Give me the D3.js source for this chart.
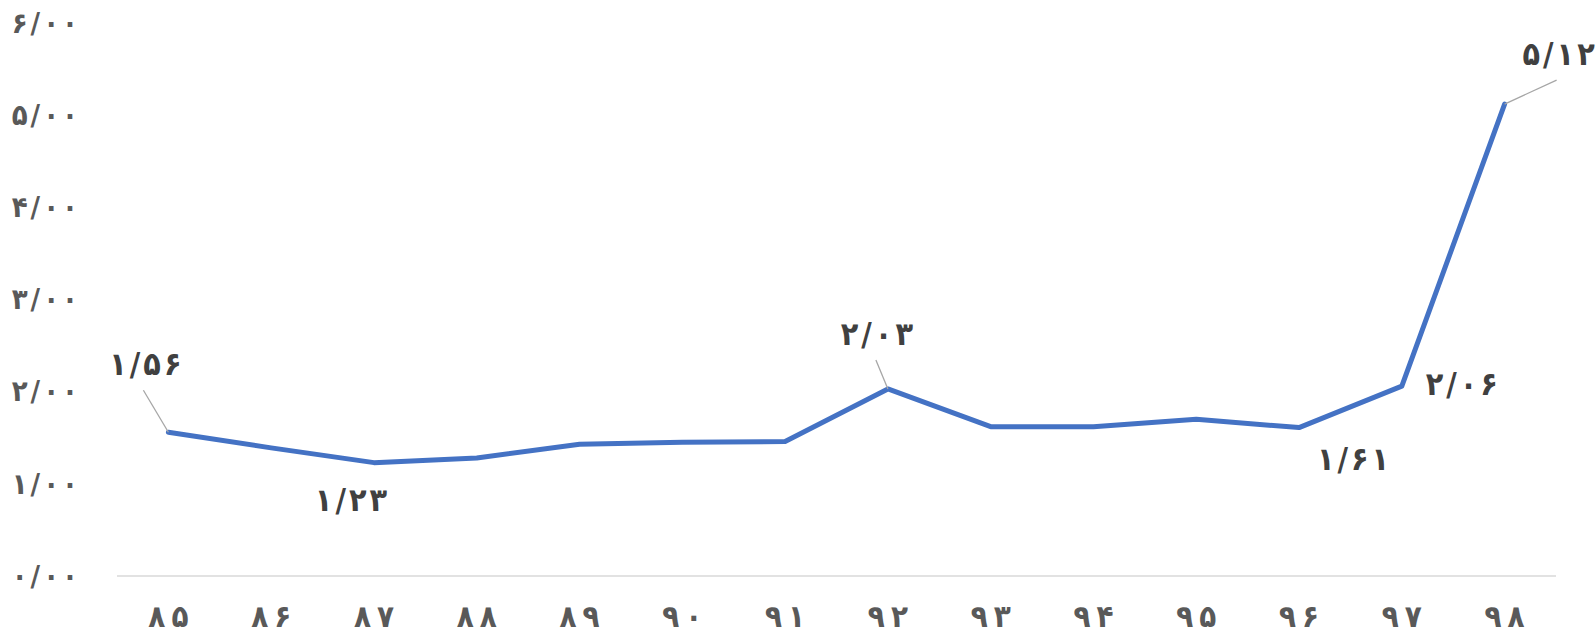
<!DOCTYPE html>
<html lang="fa">
<head>
<meta charset="utf-8">
<script src="https://cdn.jsdelivr.net/npm/d3@7"></script>
<style>
  html, body { margin: 0; padding: 0; background: #ffffff; }
  svg { display: block; }
  text { font-family: "DejaVu Sans Condensed", "DejaVu Sans", sans-serif; font-weight: bold; font-stretch: condensed; }
</style>
</head>
<body>
<svg id="chart" width="1596" height="633"></svg>
<script>
// Years (Persian calendar) and yearly values
const years = ["۸۵", "۸۶", "۸۷", "۸۸", "۸۹", "۹۰", "۹۱", "۹۲", "۹۳", "۹۴", "۹۵", "۹۶", "۹۷", "۹۸"];
const values = [1.56, 1.39, 1.23, 1.28, 1.43, 1.45, 1.46, 2.03, 1.62, 1.62, 1.70, 1.61, 2.06, 5.12];
const yTicks = [0, 1, 2, 3, 4, 5, 6];
// Indices of points that carry a value label
const labelledPoints = [0, 2, 7, 11, 12, 13];

// Label placement relative to its point (label centre offset) and leader line start
const labelPlacement = {
  0:  { dx: -23, dy: -68, leader: [-25, -42] },
  2:  { dx: -23, dy: 37,  leader: null },
  7:  { dx: -11, dy: -55, leader: [-12, -29] },
  11: { dx: 54,  dy: 31,  leader: null },
  12: { dx: 60,  dy: -2,  leader: null },
  13: { dx: 54,  dy: -50, leader: [52, -24] }
};

const toFa = s => s.replace(/\d/g, d => "۰۱۲۳۴۵۶۷۸۹"[+d]);
const fmt = v => toFa(v.toFixed(2)).replace(".", "/");

// Writes a string as one tspan per character, with a fixed gap between characters
function spaced(textSel, str, gap) {
  textSel.text(null);
  Array.from(str).forEach((ch, k) => {
    textSel.append("tspan").attr("dx", k === 0 ? 0 : gap).text(ch);
  });
}

const svg = d3.select("#chart");
const margin = { left: 117, right: 40, top: 23, bottom: 57 };
const W = 1596, H = 633;

const x = d3.scaleBand().domain(years).range([margin.left, W - margin.right]).padding(0);
const y = d3.scaleLinear().domain([0, 6]).range([H - margin.bottom, margin.top]);
const cx = d => x(d) + x.bandwidth() / 2;

// Baseline along the category axis
svg.append("line")
  .attr("x1", margin.left).attr("x2", W - margin.right)
  .attr("y1", y(0)).attr("y2", y(0))
  .attr("stroke", "#d9d9d9").attr("stroke-width", 1.5);

// Value axis labels
const yAxis = d3.axisLeft(y).tickValues(yTicks).tickFormat(fmt).tickSize(0).tickPadding(0);
const yg = svg.append("g").attr("transform", "translate(78,0)").call(yAxis);
yg.select(".domain").remove();
yg.selectAll("text")
  .attr("fill", "#595959").attr("font-size", 29)
  .attr("font-family", null).attr("dy", "0.32em")
  .each(function (d) { spaced(d3.select(this), fmt(d), 3); });

// Category axis labels
const xAxis = d3.axisBottom(x).tickSize(0).tickPadding(0);
const xg = svg.append("g").attr("transform", `translate(0,${y(0)})`).call(xAxis);
xg.select(".domain").remove();
xg.selectAll("text")
  .attr("fill", "#595959").attr("font-size", 31)
  .attr("font-family", null).attr("y", 0).attr("dy", 51)
  .each(function (d) { spaced(d3.select(this), d, 6); });

// Series line
const line = d3.line().x((d, i) => cx(years[i])).y(d => y(d));
svg.append("path")
  .datum(values)
  .attr("d", line)
  .attr("fill", "none")
  .attr("stroke", "#4472c4")
  .attr("stroke-width", 5)
  .attr("stroke-linejoin", "round")
  .attr("stroke-linecap", "round");

// Value labels with optional leader lines
labelledPoints.forEach(i => {
  const p = labelPlacement[i];
  const px = cx(years[i]), py = y(values[i]);
  if (p.leader) {
    svg.append("line")
      .attr("x1", px + p.leader[0]).attr("y1", py + p.leader[1])
      .attr("x2", px).attr("y2", py)
      .attr("stroke", "#a6a6a6").attr("stroke-width", 1.3);
  }
  const t = svg.append("text")
    .attr("x", px + p.dx).attr("y", py + p.dy)
    .attr("text-anchor", "middle")
    .attr("dy", "0.35em")
    .attr("fill", "#404040")
    .attr("font-size", 32);
  spaced(t, fmt(values[i]), 3);
});
</script>
</body>
</html>
